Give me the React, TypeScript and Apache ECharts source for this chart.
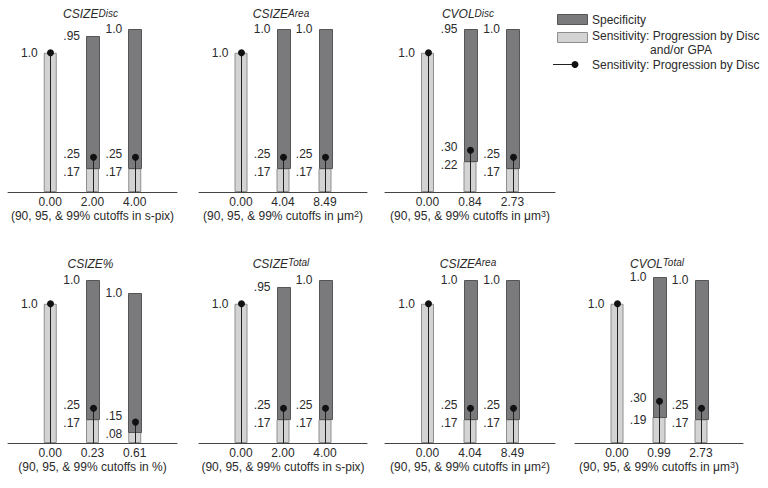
import React, { useEffect, useRef } from 'react';
import * as echarts from 'echarts';

// ---------- data ----------
const titleMain = ['CSIZE', 'CSIZE', 'CVOL', 'CSIZE%', 'CSIZE', 'CSIZE', 'CVOL'];
const titleSup = ['Disc', 'Area', 'Disc', '', 'Total', 'Area', 'Total'];
const cutoffLabels = [
  ['0.00', '2.00', '4.00'],
  ['0.00', '4.04', '8.49'],
  ['0.00', '0.84', '2.73'],
  ['0.00', '0.23', '0.61'],
  ['0.00', '2.00', '4.00'],
  ['0.00', '4.04', '8.49'],
  ['0.00', '0.99', '2.73'],
];
const unitBase = ['s-pix', 'μm', 'μm', '%', 's-pix', 'μm', 'μm'];
const unitSup = ['', '2', '3', '', '', '2', '3'];
const specificity = [
  [null, 0.95, 1.0],
  [null, 1.0, 1.0],
  [null, 0.95, 1.0],
  [null, 1.0, 1.0],
  [null, 0.95, 1.0],
  [null, 1.0, 1.0],
  [null, 1.0, 1.0],
];
const sensAny = [
  [1.0, 0.17, 0.17],
  [1.0, 0.17, 0.17],
  [1.0, 0.22, 0.17],
  [1.0, 0.17, 0.08],
  [1.0, 0.17, 0.17],
  [1.0, 0.17, 0.17],
  [1.0, 0.19, 0.17],
];
const sensDisc = [
  [1.0, 0.25, 0.25],
  [1.0, 0.25, 0.25],
  [1.0, 0.3, 0.25],
  [1.0, 0.25, 0.15],
  [1.0, 0.25, 0.25],
  [1.0, 0.25, 0.25],
  [1.0, 0.3, 0.25],
];
const legendNames = [
  'Specificity',
  'Sensitivity: Progression by Disc',
  'and/or GPA',
  'Sensitivity: Progression by Disc',
];

// ---------- layout / style ----------
const gridLeft = [8, 199, 385, 8, 199, 385, 575];
const gridWidth = [169, 168, 170, 169, 168, 170, 168];
const rowOf = [0, 0, 0, 1, 1, 1, 1];
const baseline = [192, 443];
const titleY = [14, 263.5];
const plotH = 181;
const BAR_W = 13;
const FONT = '"Liberation Sans", Arial, Helvetica, sans-serif';
const TXT = '#2a2a2a';
const DARK = '#7a7a7c';
const DARK_B = '#555557';
const LIGHT = '#d3d3d3';
const LIGHT_B = '#8e8e8e';

const fmt = (v: number) => (v >= 1 ? v.toFixed(1) : v.toFixed(2).replace(/^0/, ''));

function buildOption() {
  const idx = titleMain.map((_, i) => i);
  const grid = idx.map((i) => ({
    left: gridLeft[i],
    top: baseline[rowOf[i]] - plotH,
    width: gridWidth[i],
    height: plotH,
  }));
  const xAxis = idx.map((i) => ({
    type: 'value',
    gridIndex: i,
    min: -1,
    max: 3,
    interval: 1,
    axisLine: { show: true, onZero: false, lineStyle: { color: '#444', width: 1 } },
    axisTick: { show: false },
    splitLine: { show: false },
    axisLabel: {
      formatter: (v: number) => cutoffLabels[i][v] ?? '',
      color: TXT,
      fontSize: 12,
      fontFamily: FONT,
      margin: 4,
    },
    name: `(90, 95, & 99% cutoffs in ${unitBase[i]}${unitSup[i] ? `{s|${unitSup[i]}}` : ''})`,
    nameLocation: 'middle',
    nameGap: 17,
    nameTextStyle: {
      color: TXT,
      fontSize: 12,
      fontFamily: FONT,
      lineHeight: 14,
      rich: {
        s: { fontSize: 9, fontFamily: FONT, color: TXT, lineHeight: 10, verticalAlign: 'top' },
      },
    },
  }));
  const yAxis = idx.map((i) => ({ type: 'value', gridIndex: i, min: 0, max: 1.3, show: false }));

  const series: any[] = [];
  idx.forEach((i) => {
    // light: sensitivity (disc and/or GPA), drawn from the baseline
    series.push({
      name: 'Sensitivity: Progression by Disc and/or GPA',
      type: 'bar',
      xAxisIndex: i,
      yAxisIndex: i,
      barWidth: BAR_W,
      z: 2,
      data: sensAny[i].map((v, k) => [k, v]),
      itemStyle: { color: LIGHT, borderColor: LIGHT_B, borderWidth: 1 },
    });
    // dark: specificity, stacked on top of the light segment
    series.push({
      name: 'Specificity',
      type: 'custom',
      xAxisIndex: i,
      yAxisIndex: i,
      z: 3,
      data: specificity[i]
        .map((v, k) => (v == null ? null : [k, v, sensAny[i][k]]))
        .filter((d) => d != null),
      renderItem: (params: any, api: any) => {
        const x = api.value(0);
        const spec = api.value(1);
        const base = api.value(2);
        const p0 = api.coord([x, base]);
        const p1 = api.coord([x, base + spec]);
        const left = Math.round(p0[0] - BAR_W / 2) + 0.5;
        return {
          type: 'rect',
          shape: { x: left, y: Math.round(p1[1]) + 0.5, width: BAR_W, height: Math.round(p0[1]) - Math.round(p1[1]) },
          style: { fill: DARK, stroke: DARK_B, lineWidth: 1 },
        };
      },
    });
    series.push({
      name: 'Sensitivity: Progression by Disc',
      type: 'custom',
      xAxisIndex: i,
      yAxisIndex: i,
      z: 5,
      data: sensDisc[i].map((v, k) => [k, v]),
      renderItem: (params: any, api: any) => {
        const x = api.value(0);
        const v = api.value(1);
        const p0 = api.coord([x, 0]);
        const p1 = api.coord([x, v]);
        const cx = Math.round(p0[0]) + 0.5;
        return {
          type: 'group',
          children: [
            { type: 'line', shape: { x1: cx, y1: p0[1], x2: cx, y2: p1[1] }, style: { stroke: '#222', lineWidth: 1 } },
            { type: 'circle', shape: { cx, cy: p1[1], r: 3.5 }, style: { fill: '#111' } },
          ],
        };
      },
    });
    series.push({
      name: 'labels',
      type: 'custom',
      xAxisIndex: i,
      yAxisIndex: i,
      z: 6,
      silent: true,
      data: sensAny[i].map((v, k) => [k, v]),
      renderItem: (params: any, api: any) => {
        const k = params.dataIndex;
        const x = api.value(0);
        const any = sensAny[i][k];
        const disc = sensDisc[i][k];
        const spec = specificity[i][k];
        const px = api.coord([x, 0])[0] - 12.5;
        const mk = (text: string, y: number) => ({
          type: 'text',
          x: px,
          y,
          style: { text, fill: TXT, fontSize: 12, fontFamily: FONT, align: 'right', verticalAlign: 'middle' },
        });
        if (spec == null) {
          return { type: 'group', children: [mk(fmt(any), api.coord([x, any])[1])] };
        }
        const yTop = api.coord([x, any + spec])[1];
        const yDot = api.coord([x, disc])[1];
        const yAny = api.coord([x, any])[1];
        let a = yDot - 3.5;
        let b = yAny + 3.5;
        if (b - a < 18) {
          b = yAny + 2;
          a = b - 18;
        }
        return {
          type: 'group',
          children: [mk(fmt(spec), yTop), mk(fmt(disc), a), mk(fmt(any), b)],
        };
      },
    });
  });

  const graphic: any[] = [];
  idx.forEach((i) => {
    graphic.push({
      type: 'text',
      x: gridLeft[i] + gridWidth[i] / 2 - 2,
      y: titleY[rowOf[i]],
      style: {
        text: titleSup[i] ? `{a|${titleMain[i]}}{b|${titleSup[i]}}` : `{a|${titleMain[i]}}`,
        align: 'center',
        verticalAlign: 'middle',
        rich: {
          a: { fontSize: 12, fontStyle: 'italic', fontFamily: FONT, fill: TXT, lineHeight: 12 },
          b: { fontSize: 10, fontStyle: 'italic', fontFamily: FONT, fill: TXT, lineHeight: 5, verticalAlign: 'top' },
        },
      },
    });
  });
  const lt = (text: string, x: number, y: number, align = 'left') => ({
    type: 'text',
    x,
    y,
    style: { text, fill: TXT, fontSize: 12, fontFamily: FONT, align, verticalAlign: 'middle' },
  });
  graphic.push(
    { type: 'rect', shape: { x: 557.5, y: 14.5, width: 30, height: 10 }, style: { fill: DARK, stroke: DARK_B, lineWidth: 1 } },
    lt(legendNames[0], 592, 19.5),
    { type: 'rect', shape: { x: 557.5, y: 32.5, width: 30, height: 10 }, style: { fill: LIGHT, stroke: LIGHT_B, lineWidth: 1 } },
    lt(legendNames[1], 592, 36),
    lt(legendNames[2], 681, 50, 'center'),
    { type: 'line', shape: { x1: 553, y1: 64.5, x2: 578, y2: 64.5 }, style: { stroke: '#222', lineWidth: 1 } },
    { type: 'circle', shape: { cx: 575, cy: 64.5, r: 3.5 }, style: { fill: '#111' } },
    lt(legendNames[3], 592, 64.5),
  );

  return {
    animation: false,
    backgroundColor: '#ffffff',
    grid,
    xAxis,
    yAxis,
    series,
    graphic,
  };
}

export default function App() {
  const ref = useRef<HTMLDivElement>(null);
  useEffect(() => {
    if (!ref.current) return;
    const chart = echarts.init(ref.current, undefined, { renderer: 'svg' });
    chart.setOption(buildOption() as any);
    return () => chart.dispose();
  }, []);
  return (
    <div
      ref={ref}
      style={{ position: 'fixed', left: 0, top: 0, width: 768, height: 488, background: '#fff' }}
    />
  );
}
